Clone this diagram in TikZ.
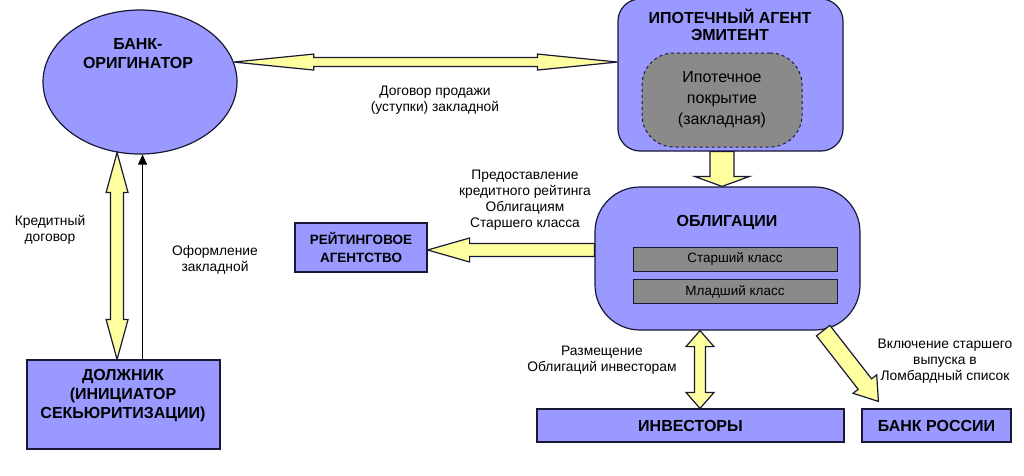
\documentclass[tikz,border=0pt]{standalone}
\usepackage{fontspec}
\setmainfont{Liberation Sans}
\usetikzlibrary{shapes,calc,arrows.meta}
\definecolor{nodeblue}{RGB}{153,153,255}
\definecolor{arrowyellow}{RGB}{255,255,160}
\definecolor{covergray}{RGB}{138,138,138}
\definecolor{edge}{RGB}{25,25,55}
\tikzset{blk/.style={draw=edge,fill=nodeblue,line width=1.2pt,inner sep=0pt},
  ell/.style={blk,ellipse,minimum width=194pt,minimum height=144pt},
  box/.style={blk,rectangle,align=center,font=\bfseries\fontsize{16}{19}\selectfont},
  ttl/.style={inner sep=0pt,align=center,font=\bfseries\fontsize{16}{19}\selectfont},
  lbl/.style={inner sep=0pt,align=center,font=\fontsize{13.8}{16}\selectfont},
  cover/.style={draw=edge,dashed,fill=covergray,line width=1pt,rounded corners=32pt,minimum width=160pt,minimum height=94pt,align=center,font=\fontsize{16}{21}\selectfont},
  cls/.style={draw=edge,fill=covergray,line width=1pt,minimum width=204pt,minimum height=24pt,inner sep=0pt,font=\fontsize{13.5}{16}\selectfont},
  blockarrow/.style={draw=edge,fill=arrowyellow,line width=1.2pt,line join=miter}}
% from, to, head length, head half width, shaft half width
\newcommand{\dblarrow}[5]{%
  \coordinate (ha) at ($(#1)!#3pt!(#2)$);
  \coordinate (hb) at ($(#2)!#3pt!(#1)$);
  \filldraw[blockarrow] (#1) -- ($(ha)!#4pt!90:(#2)$) -- ($(ha)!#5pt!90:(#2)$)
    -- ($(hb)!#5pt!-90:(#1)$) -- ($(hb)!#4pt!-90:(#1)$) -- (#2)
    -- ($(hb)!#4pt!90:(#1)$) -- ($(hb)!#5pt!90:(#1)$)
    -- ($(ha)!#5pt!-90:(#2)$) -- ($(ha)!#4pt!-90:(#2)$) -- cycle;}
\newcommand{\sglarrow}[5]{%
  \coordinate (hb) at ($(#2)!#3pt!(#1)$);
  \filldraw[blockarrow] ($(#1)!#5pt!90:(#2)$) -- ($(hb)!#5pt!-90:(#1)$)
    -- ($(hb)!#4pt!-90:(#1)$) -- (#2) -- ($(hb)!#4pt!90:(#1)$)
    -- ($(hb)!#5pt!90:(#1)$) -- ($(#1)!#5pt!-90:(#2)$) -- cycle;}

\begin{document}
\begin{tikzpicture}[x=1pt,y=-1pt,>={Triangle[length=10pt,width=9pt]}]
    \useasboundingbox (0,0) rectangle (1024,475);

    \node[ell] (bank) at (140,82) {};
    \node[ttl] (banktxt) at (138,54) {БАНК-\\ОРИГИНАТОР};
    \node[blk,rounded corners=22pt,minimum width=225pt,minimum height=152pt] (agent) at (730.5,75) {};
    \node[ttl,font=\bfseries\fontsize{16}{17.5}\selectfont] (agenttxt) at (730,25) {ИПОТЕЧНЫЙ АГЕНТ\\ЭМИТЕНТ};
    \node[cover] (cover) at (722,100) {Ипотечное\\покрытие\\(закладная)};
    \node[blk,rounded corners=45pt,minimum width=265pt,minimum height=143pt] (bonds) at (727.5,258.5) {};
    \node[ttl] (bondstxt) at (727,222) {ОБЛИГАЦИИ};
    \node[cls] (senior) at (735,259) {Старший класс};
    \node[cls] (junior) at (735,291.5) {Младший класс};
    \node[box,font=\bfseries\fontsize{13.5}{17.5}\selectfont,minimum width=132pt,minimum height=49pt] (rating) at (361,247.5) {РЕЙТИНГОВОЕ\\АГЕНТСТВО};
    \node[box,minimum width=193pt,minimum height=89pt] (debtor) at (123.5,404.5) {};
    \node[ttl] (debtortxt) at (123,396) {ДОЛЖНИК\\(ИНИЦИАТОР\\СЕКЬЮРИТИЗАЦИИ)};
    \node[box,minimum width=307pt,minimum height=33pt] (investors) at (690.5,425.5) {ИНВЕСТОРЫ};
    \node[box,minimum width=149pt,minimum height=33pt] (cbr) at (936.5,425.5) {БАНК РОССИИ};

    \node[lbl] (sale) at (435,100) {Договор продажи\\(уступки) закладной};
    \node[lbl] (ratinglbl) at (525,200) {Предоставление\\кредитного рейтинга\\Облигациям\\Старшего класса};
    \node[lbl] (credit) at (50,230) {Кредитный\\договор};
    \node[lbl] (registr) at (215,260) {Оформление\\закладной};
    \node[lbl] (placement) at (602,360) {Размещение\\Облигаций инвесторам};
    \node[lbl] (lombard) at (945,361) {Включение старшего\\выпуска в\\Ломбардный список};

    \coordinate (dn) at ($(agent.south)+(-8.5,0)$);
    \coordinate (rt) at ($(rating.east)+(0,2.5)$);
    \coordinate (iv) at ($(investors.north)+(9.5,0)$);
    \coordinate (bk) at ($(cbr.north west)+(17,-7)$);

    \dblarrow{bank.12}{agent.west |- bank.12}{80}{8}{4.5}
    \dblarrow{bank.252}{debtor.north -| bank.252}{40}{11}{6.5}
    \draw [->,line width=0.8pt] (debtor.north -| bank.272) to (bank.272);
    \sglarrow{dn}{bonds.north -| dn}{10}{27.5}{12}
    \sglarrow{bonds.west |- rt}{rt}{42}{12}{6.5}
    \dblarrow{bonds.south -| iv}{iv}{16}{14}{5.5}
    \sglarrow{bonds.-37.5}{bk}{22}{15}{8.5}
\end{tikzpicture}
\end{document}
